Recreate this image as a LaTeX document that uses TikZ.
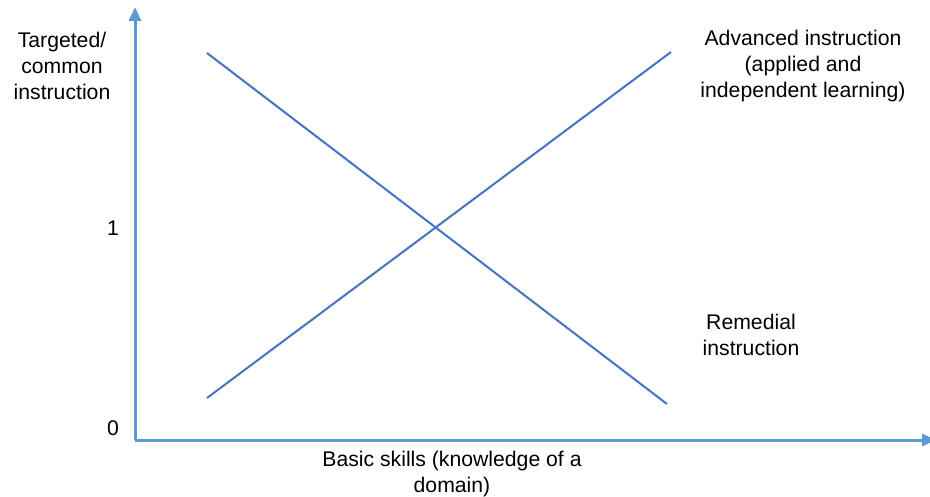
\documentclass[tikz,border=0pt]{standalone}
\usepackage{fontspec}
\setmainfont{Liberation Sans}
\usetikzlibrary{arrows.meta}

\definecolor{axisblue}{HTML}{5B9BD5}
\definecolor{lineblue}{HTML}{4472C4}

\tikzset{
  axis/.style={axisblue, line width=3pt},
  trend/.style={lineblue, line width=2pt},
  lbl/.style={font=\fontsize{21.2}{26}\selectfont, align=center, inner sep=0pt},
}

\begin{document}
\begin{tikzpicture}[x=1pt,y=-1pt]
  \useasboundingbox (0,0) rectangle (930,497);

  % Draw axes
  \coordinate (origin) at (135,440);
  \coordinate (ytop) at (135,7);
  \coordinate (xend) at (936,440);
  \draw[axis, -{Triangle[width=12pt,length=14pt]}] (origin) -- (ytop);
  \draw[axis, -{Triangle[width=12pt,length=14pt]}] (origin) -- (xend);

  % Draw the two crossing lines
  \coordinate (remtop) at (207,53);
  \coordinate (rembot) at (667,404);
  \coordinate (advbot) at (207,398);
  \coordinate (advtop) at (671,52);
  \draw[trend] (remtop) -- (rembot);
  \draw[trend] (advbot) -- (advtop);

  % Add labels
  \node[lbl] (ylabel) at (62,66) {Targeted/\\common\\instruction};
  \node[lbl] (one) at (113,228) {1};
  \node[lbl] (zero) at (113,428) {0};
  \node[lbl] (advanced) at (803,66) {Advanced instruction\\(applied and\\independent learning)};
  \node[lbl] (remedial) at (751,335) {Remedial\\instruction};
  \node[lbl] (xlabel) at (452,474) {Basic skills (knowledge of a\\domain)};
\end{tikzpicture}
\end{document}
